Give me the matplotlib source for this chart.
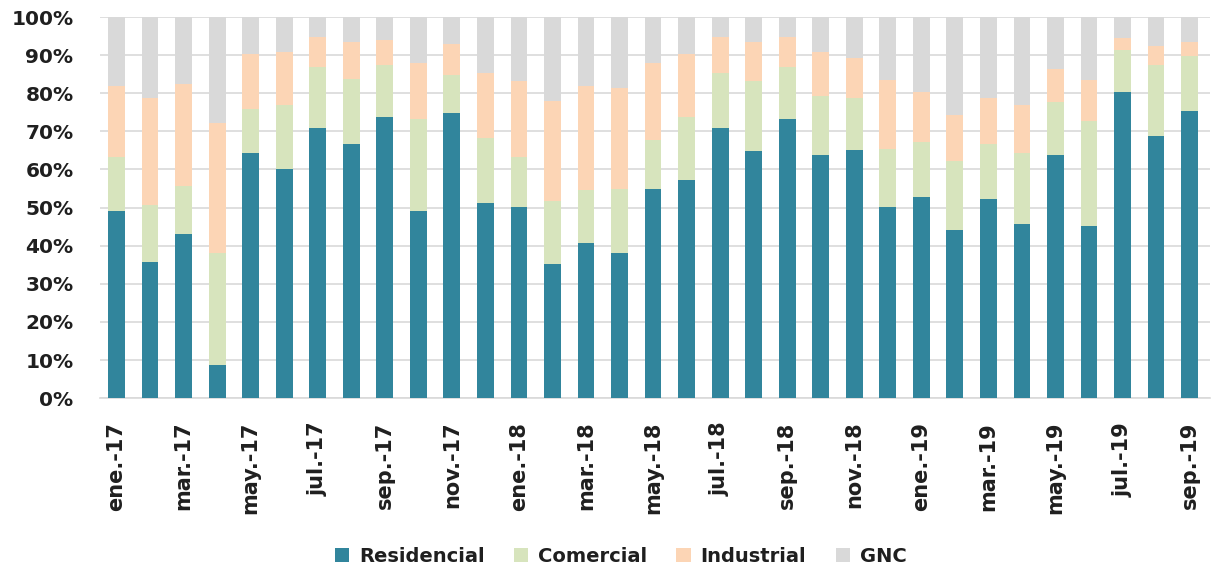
import numpy as np
import matplotlib
matplotlib.use('Agg')
import matplotlib.pyplot as plt
from matplotlib.ticker import PercentFormatter

# Participación mensual del consumo por sector (%)
meses = ['ene.-17', 'feb.-17', 'mar.-17', 'abr.-17', 'may.-17', 'jun.-17',
         'jul.-17', 'ago.-17', 'sep.-17', 'oct.-17', 'nov.-17', 'dic.-17',
         'ene.-18', 'feb.-18', 'mar.-18', 'abr.-18', 'may.-18', 'jun.-18',
         'jul.-18', 'ago.-18', 'sep.-18', 'oct.-18', 'nov.-18', 'dic.-18',
         'ene.-19', 'feb.-19', 'mar.-19', 'abr.-19', 'may.-19', 'jun.-19',
         'jul.-19', 'ago.-19', 'sep.-19']

residencial = [49.1, 35.8, 43.0, 8.8, 64.4, 60.0, 71.0, 66.6, 73.8, 49.1, 74.8,
               51.2, 50.1, 35.2, 40.8, 38.0, 55.0, 57.2, 71.0, 64.9, 73.2, 63.8,
               65.0, 50.1, 52.8, 44.1, 52.3, 45.7, 63.8, 45.2, 80.3, 68.8, 75.4]
comercial = [14.2, 14.9, 12.6, 29.2, 11.6, 17.0, 16.0, 17.1, 13.7, 24.1, 9.9,
             17.1, 13.2, 16.5, 13.7, 17.0, 12.7, 16.5, 14.2, 18.2, 13.8, 15.4,
             13.7, 15.4, 14.3, 18.0, 14.3, 18.7, 13.8, 27.4, 11.1, 18.7, 14.3]
industrial = [18.7, 28.0, 26.9, 34.1, 14.2, 13.8, 7.7, 9.8, 6.6, 14.8, 8.3,
              16.9, 19.8, 26.4, 27.4, 26.4, 20.3, 16.5, 9.5, 10.4, 7.7, 11.5,
              10.5, 18.1, 13.2, 12.1, 12.1, 12.6, 8.8, 11.0, 3.2, 5.0, 3.8]
gnc = [18.0, 21.3, 17.5, 27.9, 9.8, 9.2, 5.3, 6.5, 5.9, 12.0, 7.0,
       14.8, 16.9, 21.9, 18.1, 18.6, 12.0, 9.8, 5.3, 6.5, 5.3, 9.3,
       10.8, 16.4, 19.7, 25.8, 21.3, 23.0, 13.6, 16.4, 5.4, 7.5, 6.5]

series = [('Residencial', residencial, '#31859C'),
          ('Comercial', comercial, '#D7E4BD'),
          ('Industrial', industrial, '#FCD5B5'),
          ('GNC', gnc, '#D9D9D9')]

plt.rcParams['font.family'] = ['DejaVu Sans']
texto = '#1f1f1f'

fig = plt.figure(figsize=(12.17, 5.68), dpi=100)
ax = fig.add_axes([0.082, 0.299, 0.912, 0.671])

x = np.arange(len(meses))
bottom = np.zeros(len(meses))
for nombre, valores, color in series:
    valores = np.array(valores)
    ax.bar(x, valores, 0.5, bottom=bottom, color=color, label=nombre, zorder=3)
    bottom += valores

ax.set_ylim(0, 100)
ax.set_xlim(-0.5, len(meses) - 0.4)
ax.set_yticks(np.arange(0, 101, 10))
ax.yaxis.set_major_formatter(PercentFormatter(decimals=0))
ax.grid(axis='y', color='#D9D9D9', linewidth=1.2, zorder=0)

ax.set_xticks(x[::2])
ax.set_xticklabels(meses[::2], rotation=90, fontsize=15, fontweight='bold',
                   color=texto)
for lab in ax.get_yticklabels():
    lab.set_fontsize(14.5)
    lab.set_fontweight('bold')
    lab.set_color(texto)
ax.tick_params(axis='both', length=0)
ax.tick_params(axis='x', pad=17)
ax.tick_params(axis='y', pad=19)

for lado in ['top', 'right', 'left']:
    ax.spines[lado].set_visible(False)
ax.spines['bottom'].set_color('#D9D9D9')
ax.spines['bottom'].set_linewidth(1.2)

leg = fig.legend(loc='center', bbox_to_anchor=(0.51, 0.02), ncol=4,
                 frameon=False, prop={'size': 14, 'weight': 'bold'},
                 handlelength=0.75, handleheight=0.75,
                 handletextpad=0.5, columnspacing=1.5)
for t in leg.get_texts():
    t.set_color(texto)

fig.savefig('out.png', dpi=100)
